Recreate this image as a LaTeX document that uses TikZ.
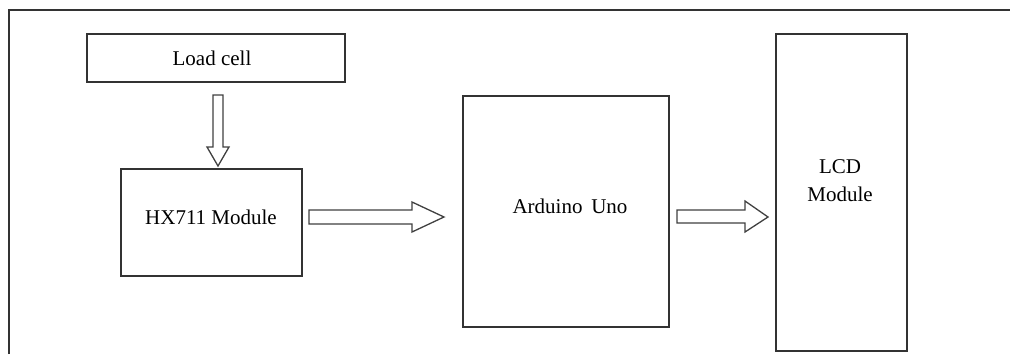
\documentclass[tikz,border=0pt]{standalone}
\usepackage{fontspec}
\setmainfont{Liberation Serif}
\begin{document}
\begin{tikzpicture}[x={(1pt,0pt)},y={(0pt,-1pt)},
  box/.style={draw=black!80,line width=1.5pt},
  blockarrow/.style={draw=black!75,line width=1.3pt,fill=white,line join=miter},
  lbl/.style={font=\fontsize{21pt}{28pt}\selectfont,inner sep=0pt,align=center}]
\useasboundingbox (0,0) rectangle (1010,354);
% outer frame (top and left only)
\draw[draw=black!80,line width=1.6pt] (9,354) -- (9,10) -- (1010,10);
% blocks
\draw[box] (87,34) rectangle (345,82);
\node[lbl] (load) at (212,58) {Load cell};
\draw[box] (121,169) rectangle (302,276);
\node[lbl] (hx) at (211,217) {HX711 Module};
\draw[box] (463,96) rectangle (669,327);
\node[lbl] (ard) at (570,206) {Arduino\, Uno};
\draw[box] (776,34) rectangle (907,351);
\node[lbl] (lcd) at (840,181) {LCD\\Module};
% block arrows
\draw[blockarrow] (213,95) -- (223,95) -- (223,147) -- (229,147) -- (218,166) -- (207,147) -- (213,147) -- cycle;
\draw[blockarrow] (309,210) -- (412,210) -- (412,202) -- (444,217) -- (412,232) -- (412,224) -- (309,224) -- cycle;
\draw[blockarrow] (677,210) -- (745,210) -- (745,201) -- (768,217) -- (745,232) -- (745,223) -- (677,223) -- cycle;
\end{tikzpicture}
\end{document}
